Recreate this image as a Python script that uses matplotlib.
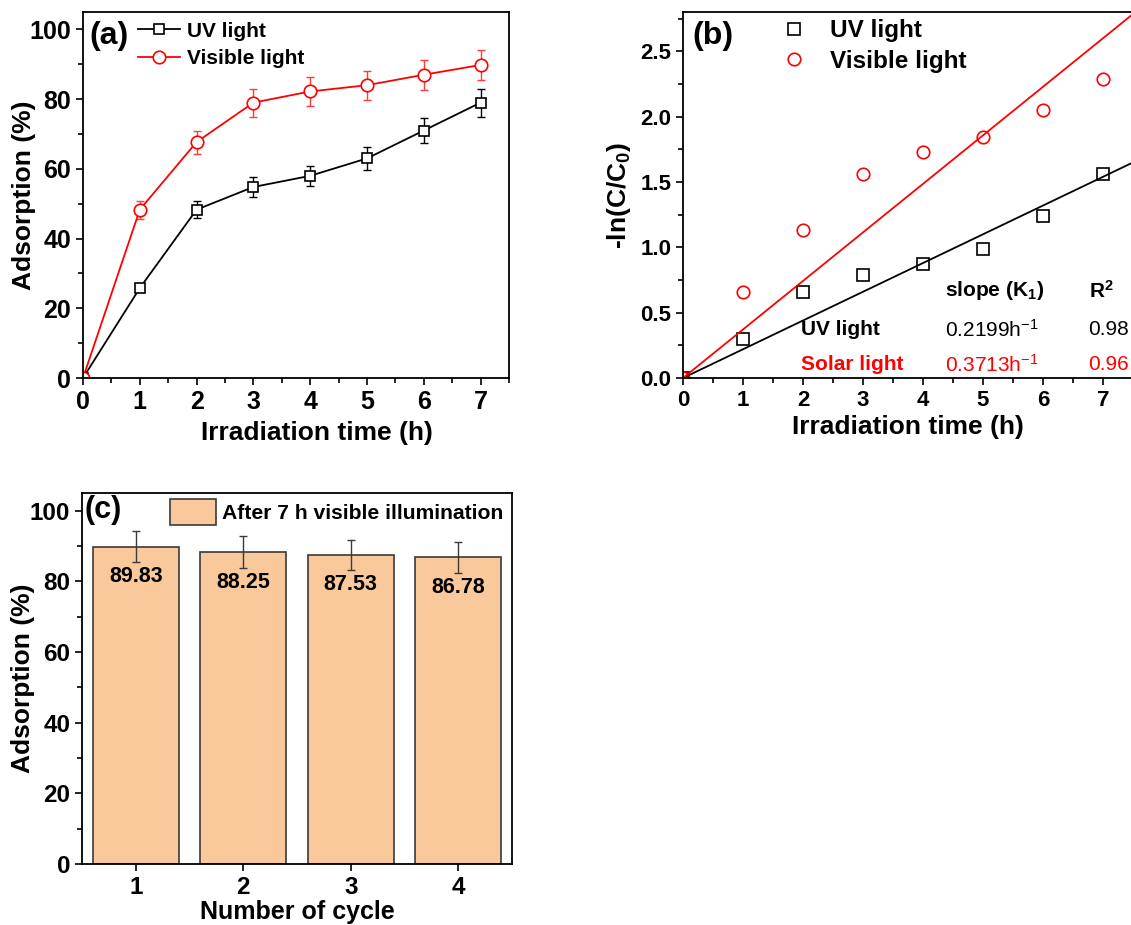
import numpy as np
import matplotlib
matplotlib.use("Agg")
import matplotlib.pyplot as plt
from matplotlib.ticker import MultipleLocator

plt.rcParams['font.family'] = ['Liberation Sans', 'DejaVu Sans']
plt.rcParams['font.weight'] = 'bold'
plt.rcParams['mathtext.default'] = 'regular'

# ---- data ----
time_h = [0, 1, 2, 3, 4, 5, 6, 7]

# (a) adsorption vs time
uv_ads = [0, 25.8, 48.3, 54.8, 58.0, 63.0, 71.0, 79.0]
uv_err = [0, 0.8, 2.5, 2.8, 2.9, 3.2, 3.6, 4.0]
vis_ads = [0, 48.3, 67.7, 79.0, 82.2, 84.0, 87.0, 89.8]
vis_err = [0, 2.6, 3.3, 4.0, 4.1, 4.2, 4.3, 4.4]

# (b) kinetics
uv_ln = [0, 0.30, 0.66, 0.79, 0.87, 0.99, 1.24, 1.56]
vis_ln = [0, 0.66, 1.13, 1.56, 1.73, 1.84, 2.05, 2.29]
k_uv = 0.2199
k_vis = 0.3713
r2_uv = "0.98"
r2_vis = "0.96"

# (c) cycles
cycles = [1, 2, 3, 4]
cycle_ads = [89.83, 88.25, 87.53, 86.78]
cycle_err = [4.4, 4.5, 4.3, 4.3]

W, H = 1131, 925
fig = plt.figure(figsize=(W / 100, H / 100), dpi=100)


def px_axes(left, top, right, bottom):
    return fig.add_axes([left / W, 1 - bottom / H, (right - left) / W, (bottom - top) / H])


def style_axes(ax, tick_size):
    for sp in ax.spines.values():
        sp.set_linewidth(1.3)
    ax.tick_params(which='both', direction='out', top=False, right=False,
                   width=1.2, labelsize=tick_size)
    ax.tick_params(which='major', length=5)
    ax.tick_params(which='minor', length=3.5)
    for lab in ax.get_xticklabels() + ax.get_yticklabels():
        lab.set_fontweight('bold')


# ---- (a) ----
ax1 = px_axes(83, 12, 509, 378)
ax1.errorbar(time_h, uv_ads, yerr=uv_err, fmt='none', ecolor='black',
             capsize=3, elinewidth=1)
ax1.errorbar(time_h, vis_ads, yerr=vis_err, fmt='none', ecolor='#ff3b3b',
             capsize=3, elinewidth=1)
ax1.plot(time_h, uv_ads, color='black', marker='s', ms=7.5, mfc='white',
         mec='black', mew=1.2, lw=1.3, label='UV light')
ax1.plot(time_h, vis_ads, color='red', marker='o', ms=9, mfc='white',
         mec='red', mew=1.2, lw=1.3, label='Visible light')
ax1.set_xlim(0, 7.5)
ax1.set_ylim(0, 105)
ax1.xaxis.set_major_locator(MultipleLocator(1))
ax1.xaxis.set_minor_locator(MultipleLocator(0.5))
ax1.yaxis.set_major_locator(MultipleLocator(20))
ax1.yaxis.set_minor_locator(MultipleLocator(10))
style_axes(ax1, 18)
ax1.set_xlabel('Irradiation time (h)', fontsize=19, fontweight='bold', labelpad=5)
ax1.xaxis.label.set_x(0.55)
ax1.set_ylabel('Adsorption (%)', fontsize=19, fontweight='bold', labelpad=-4.5)
ax1.text(0.016, 0.975, '(a)', transform=ax1.transAxes, fontsize=23, fontweight='bold',
         va='top', ha='left')
ax1.legend(loc='upper left', bbox_to_anchor=(0.085, 1.025), frameon=False,
           prop={'size': 15, 'weight': 'bold'}, handlelength=2.0,
           handletextpad=0.35, labelspacing=0.4)

# ---- (b) ----
ax2 = px_axes(683, 12, 1133, 378)
ax2.plot(time_h, uv_ln, ls='none', marker='s', ms=8, mfc='none', mec='black',
         mew=1.2, label='UV light')
ax2.plot(time_h, vis_ln, ls='none', marker='o', ms=9, mfc='none', mec='red',
         mew=1.2, label='Visible light')
xfit = np.array([0, 7.5])
ax2.plot(xfit, k_uv * xfit, color='black', lw=1.3)
ax2.plot(xfit, k_vis * xfit, color='red', lw=1.3)
ax2.set_xlim(0, 7.5)
ax2.set_ylim(0, 2.8)
ax2.xaxis.set_major_locator(MultipleLocator(1))
ax2.xaxis.set_minor_locator(MultipleLocator(0.5))
ax2.yaxis.set_major_locator(MultipleLocator(0.5))
ax2.yaxis.set_minor_locator(MultipleLocator(0.25))
style_axes(ax2, 16)
ax2.set_xlabel('Irradiation time (h)', fontsize=19, fontweight='bold', labelpad=3)
ax2.set_ylabel('-ln(C/C$_0$)', fontsize=19, fontweight='bold', labelpad=5)
ax2.text(0.02, 0.975, '(b)', transform=ax2.transAxes, fontsize=23, fontweight='bold',
         va='top', ha='left')
ax2.legend(loc='upper left', bbox_to_anchor=(0.17, 1.04), frameon=False,
           prop={'size': 17.5, 'weight': 'bold'}, handlelength=1.0,
           handletextpad=1.0, labelspacing=0.3)

# table of fit results
tx_name, tx_k, tx_r = 1.97, 4.37, 6.76
ax2.text(tx_k, 0.67, 'slope (K$_1$)', fontsize=15, fontweight='bold', va='center')
ax2.text(tx_r, 0.67, 'R$^2$', fontsize=15, fontweight='bold', va='center')
ax2.text(tx_name, 0.37, 'UV light', fontsize=15, fontweight='bold', va='center')
ax2.text(tx_k, 0.37, '%.4fh$^{-1}$' % k_uv, fontsize=15, fontweight='normal', va='center')
ax2.text(tx_r, 0.37, r2_uv, fontsize=15, fontweight='normal', va='center')
ax2.text(tx_name, 0.10, 'Solar light', fontsize=15, fontweight='bold', va='center',
         color='red')
ax2.text(tx_k, 0.10, '%.4fh$^{-1}$' % k_vis, fontsize=15, fontweight='normal',
         va='center', color='red')
ax2.text(tx_r, 0.10, r2_vis, fontsize=15, fontweight='normal', va='center', color='red')

# ---- (c) ----
ax3 = px_axes(82, 493, 512, 864)
ax3.bar(cycles, cycle_ads, width=0.8, color='#F9C89B', edgecolor='#3a3a3a', lw=1.2,
        label='After 7 h visible illumination')
ax3.errorbar(cycles, cycle_ads, yerr=cycle_err, fmt='none', ecolor='#3a3a3a',
             elinewidth=1, capsize=3)
for x, v in zip(cycles, cycle_ads):
    ax3.text(x, v - 8.5, '%.2f' % v, ha='center', va='center', fontsize=15.5,
             fontweight='bold')
ax3.set_xlim(0.5, 4.5)
ax3.set_ylim(0, 105)
ax3.set_xticks(cycles)
ax3.yaxis.set_major_locator(MultipleLocator(20))
ax3.yaxis.set_minor_locator(MultipleLocator(10))
style_axes(ax3, 17.5)
ax3.set_xlabel('Number of cycle', fontsize=18, fontweight='bold', labelpad=1)
ax3.set_ylabel('Adsorption (%)', fontsize=19, fontweight='bold', labelpad=-4)
ax3.text(0.005, 0.995, '(c)', transform=ax3.transAxes, fontsize=22, fontweight='bold',
         va='top', ha='left')
ax3.legend(loc='upper right', bbox_to_anchor=(1.025, 1.035), frameon=False,
           prop={'size': 15.2, 'weight': 'bold'}, handlelength=2.2, handleheight=1.5,
           handletextpad=0.3)

fig.savefig('out.png', dpi=100)
